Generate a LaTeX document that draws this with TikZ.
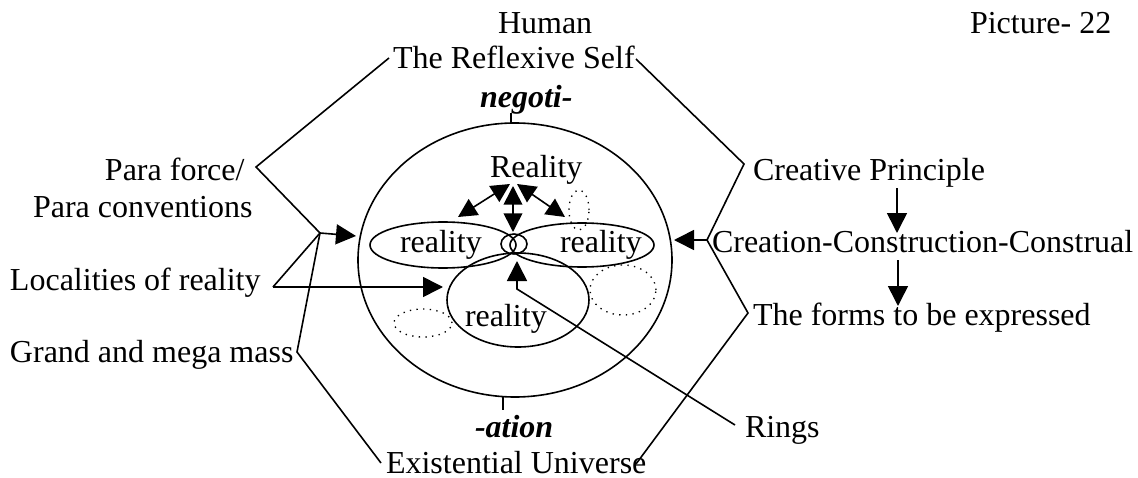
\documentclass[tikz,border=0pt]{standalone}
\usepackage{fontspec}
\setmainfont{Liberation Serif}
\usetikzlibrary{arrows.meta,shapes.geometric}
\begin{document}
\begin{tikzpicture}[x=0.375pt,y=-0.375pt,
  lbl/.style={anchor=base west,inner sep=0pt,outer sep=0pt,font=\fontsize{12}{14}\selectfont},
  ring/.style={draw,ellipse,inner sep=0pt,outer sep=0pt,line width=0.6pt},
  dotring/.style={draw,ellipse,inner sep=0pt,outer sep=0pt,dotted,line width=0.5pt},
  ln/.style={line width=0.6pt},
  arr/.style={ln,-{Triangle[length=7.5pt,width=7.5pt]}},
  darr/.style={ln,{Triangle[length=7pt,width=7pt]}-{Triangle[length=7pt,width=7pt]}}]
\useasboundingbox (0,0) rectangle (1138,478);
% rings
\node[ring,minimum width=117.75pt,minimum height=102.75pt] (big) at (515,260) {};
\node[ring,minimum width=54.75pt,minimum height=17.25pt] (rl) at (443,245) {};
\node[ring,minimum width=54pt,minimum height=16.5pt] (rr) at (582,245) {};
\node[ring,minimum width=53.25pt,minimum height=35.25pt] (rb) at (518,300) {};
\node[ring,minimum width=9.75pt,minimum height=7.5pt] (rc) at (514,244) {};
\node[dotring,minimum width=7.5pt,minimum height=15pt] (d1) at (579,210) {};
\node[dotring,minimum width=24.75pt,minimum height=18.75pt] (d2) at (623,290) {};
\node[dotring,minimum width=21.75pt,minimum height=10.5pt] (d3) at (423,323) {};
% texts
\node[lbl] (human) at (498,33) {Human};
\node[lbl] (self) at (393,68) {The Reflexive Self};
\node[lbl,font=\fontsize{12}{14}\selectfont\bfseries\itshape] (neg) at (480,107) {negoti-};
\node[lbl] (pic) at (970,33) {Picture- 22};
\node[lbl] (Real) at (490,178) {Reality};
\node[lbl] (tl) at (400,252) {reality};
\node[lbl] (tr) at (560,252) {reality};
\node[lbl] (tb) at (465,326) {reality};
\node[lbl,font=\fontsize{12}{14}\selectfont\bfseries\itshape] (ation) at (475,437) {-ation};
\node[lbl] (exist) at (386,473) {Existential Universe};
\node[lbl] (rings) at (745,437) {Rings};
\node[lbl] (pf) at (105,181) {Para force/};
\node[lbl] (pc) at (33,217) {Para conventions};
\node[lbl] (loc) at (10,290) {Localities of reality};
\node[lbl] (gm) at (10,362) {Grand and mega mass};
\node[lbl] (cp) at (753,180) {Creative Principle};
\node[lbl] (ccc) at (712,252) {Creation-Construction-Construal};
\node[lbl] (forms) at (753,325) {The forms to be expressed};
% coordinates
\coordinate (tTop) at (511,113);
\coordinate (tBot) at (503,410);
\coordinate (vSelfL) at (389,58);
\coordinate (vPf) at (256,167);
\coordinate (hubL) at (320,233);
\coordinate (tipL) at (356,236);
\coordinate (vLoc) at (273,287);
\coordinate (tipLoc) at (443,287);
\coordinate (vGm) at (297,352);
\coordinate (vExL) at (381,463);
\coordinate (vSelfR) at (636,59);
\coordinate (vCp) at (744,164);
\coordinate (hubR) at (707,240);
\coordinate (tipR) at (674,240);
\coordinate (vTf) at (748,313);
\coordinate (vExR) at (636,464);
\coordinate (cpA) at (897,188);
\coordinate (cpB) at (897,233);
\coordinate (ccA) at (898,260);
\coordinate (ccB) at (898,306);
\coordinate (rgA) at (735,425);
\coordinate (rgB) at (517,289);
\coordinate (rgC) at (517,261);
\coordinate (a1s) at (510,184);
\coordinate (a1e) at (458,217);
\coordinate (a2s) at (513,186);
\coordinate (a2e) at (513,232);
\coordinate (a3s) at (517,184);
\coordinate (a3e) at (565,217);
% ticks
\draw[ln] (tTop |- big.north) -- (tTop);
\draw[ln] (tBot |- big.south) -- (tBot);
% left brackets
\draw[ln] (vSelfL) -- (vPf) -- (hubL) -- (vLoc);
\draw[ln] (hubL) -- (vGm) -- (vExL);
\draw[arr] (hubL) -- (tipL);
\draw[arr] (vLoc) -- (tipLoc);
% right brackets
\draw[ln] (vSelfR) -- (vCp) -- (hubR) -- (vTf) -- (vExR);
\draw[arr] (hubR) -- (tipR);
\draw[arr] (cpA) -- (cpB);
\draw[arr] (ccA) -- (ccB);
% rings pointer
\draw[arr] (rgA) -- (rgB) -- (rgC);
% reality arrows
\draw[darr] (a1s) -- (a1e);
\draw[darr] (a2s) -- (a2e);
\draw[darr] (a3s) -- (a3e);
\end{tikzpicture}
\end{document}
